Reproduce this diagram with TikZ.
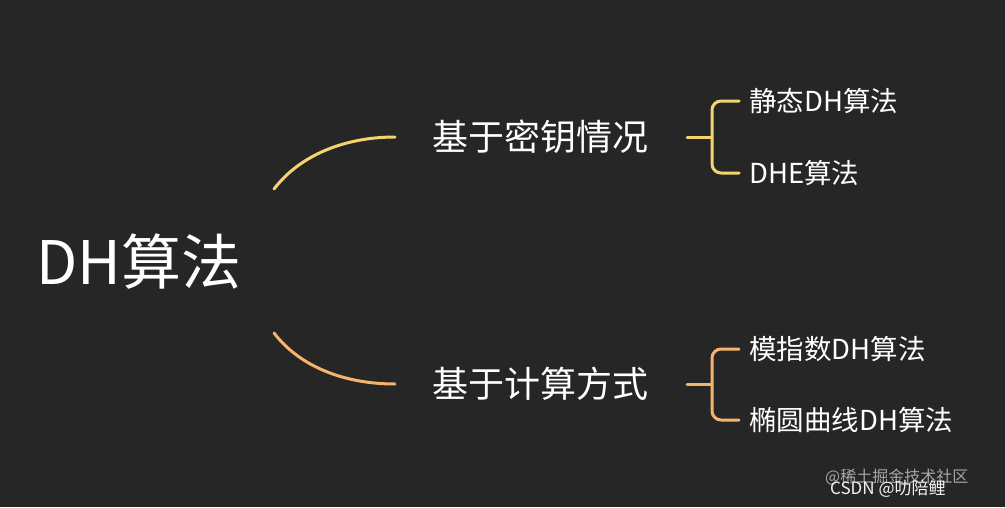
\documentclass[tikz,border=0pt]{standalone}
\usepackage{fontspec}
\setmainfont{Noto Sans CJK SC}
\definecolor{bg}{HTML}{262626}
\definecolor{yel}{HTML}{F3D46F}
\definecolor{org}{HTML}{F6B36B}
\begin{document}
\begin{tikzpicture}[x=1pt,y=-1pt,
  txt/.style={text=white,inner sep=0pt,anchor=west},
  ln/.style={line width=3pt,line cap=round}]
\fill[bg] (0,0) rectangle (1005,507);
\useasboundingbox (0,0) rectangle (1005,507);
\node[txt,font=\fontsize{60}{60}\selectfont] (root) at (36,262) {DH算法};
\node[txt,font=\fontsize{36}{36}\selectfont] (b1) at (432,137) {基于密钥情况};
\node[txt,font=\fontsize{36}{36}\selectfont] (b2) at (432,384) {基于计算方式};
\node[txt,font=\fontsize{27.5}{27.5}\selectfont] (l1) at (749,101) {静态DH算法};
\node[txt,font=\fontsize{27.5}{27.5}\selectfont] (l2) at (749,173) {DHE算法};
\node[txt,font=\fontsize{27.5}{27.5}\selectfont] (l3) at (749,349) {模指数DH算法};
\node[txt,font=\fontsize{27.5}{27.5}\selectfont] (l4) at (749,420) {椭圆曲线DH算法};
\coordinate (r1) at (274,189);
\coordinate (r2) at (274,333);
\coordinate (e1) at (395,137);
\coordinate (e2) at (395,384);
\coordinate (c1) at (687,137);
\coordinate (c2) at (687,384);
\draw[ln,yel] (r1) .. controls (300,155) and (345,137) .. (e1);
\draw[ln,org] (r2) .. controls (300,367) and (345,384) .. (e2);
\draw[ln,yel] (c1) -- (712,137);
\draw[ln,yel,rounded corners=9pt] ([xshift=-10pt]l1.west) -- (712,101) -- (712,173) -- ([xshift=-10pt]l2.west);
\draw[ln,org] (c2) -- (712,384);
\draw[ln,org,rounded corners=9pt] ([xshift=-10pt]l3.west) -- (712,349) -- (712,420) -- ([xshift=-10pt]l4.west);
\node[txt,text=gray!70,font=\fontsize{16}{16}\selectfont] (w1) at (825,477) {@稀土掘金技术社区};
\node[txt,text=white!90!gray,font=\fontsize{17}{17}\selectfont] (w2) at (830,489) {CSDN @叻陪鲤};
\end{tikzpicture}
\end{document}
